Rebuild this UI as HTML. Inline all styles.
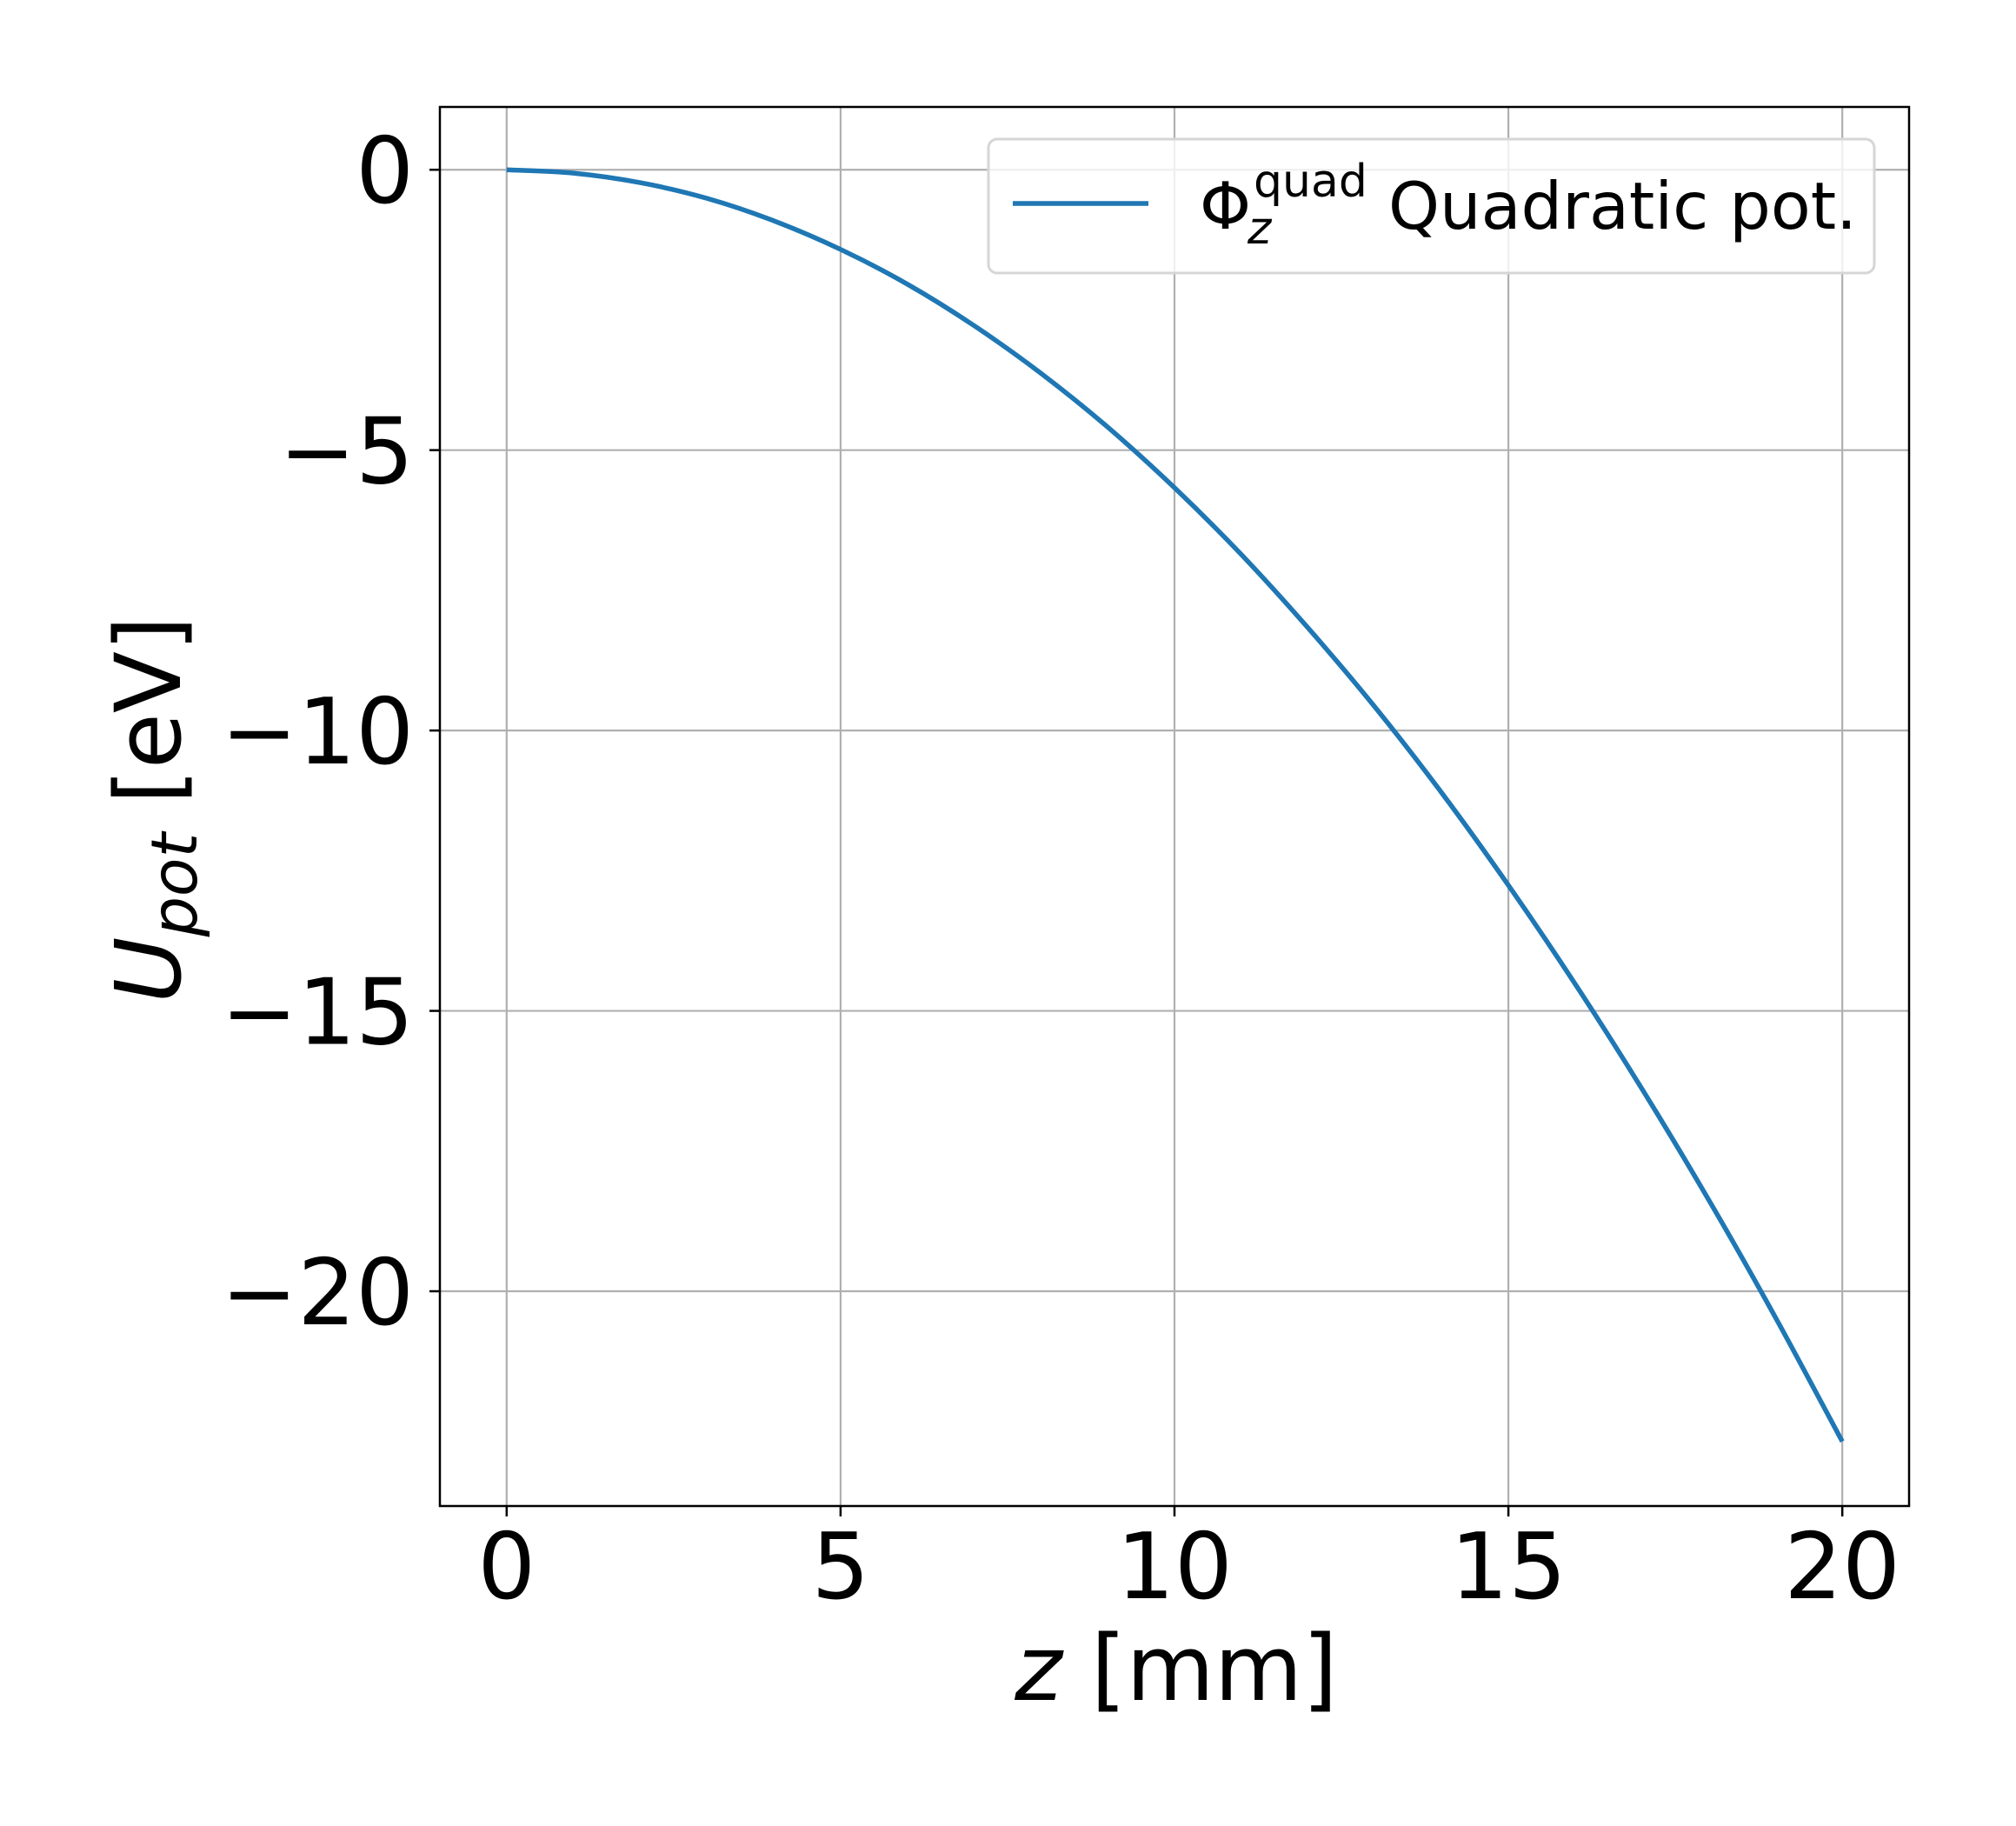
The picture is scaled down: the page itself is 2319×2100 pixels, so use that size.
<!DOCTYPE html>
<html><head><meta charset="utf-8"><style>
html,body{margin:0;padding:0;background:#fff;}
svg{display:block;font-family:"DejaVu Sans","Liberation Sans",sans-serif;}
</style></head><body>
<svg id="chart" width="2319" height="2100" viewBox="0 0 2319 2100" xmlns="http://www.w3.org/2000/svg">
<rect x="0" y="0" width="2319" height="2100" fill="#fff"/>
<g id="grid"></g>
<g id="series"></g>
<rect x="506" y="123" width="1690" height="1609" fill="none" stroke="#000" stroke-width="2.5"/>
<g id="ticks"></g>
<g>
<rect x="1137" y="160" width="1019" height="154" rx="10" fill="#fff" fill-opacity="0.8" stroke="#d6d6d6" stroke-width="3"/>
<line x1="1165" y1="234" x2="1321" y2="234" stroke="#1f77b4" stroke-width="5.5"/>
<text x="1380" y="263" font-size="75">Φ</text>
<text x="1442" y="226" font-size="52">quad</text>
<text x="1435" y="280" font-size="52" font-style="oblique">z</text>
<text x="1597" y="263" font-size="75">Quadratic pot.</text>
</g>
<text x="1353" y="1955" font-size="104" text-anchor="middle"><tspan font-style="oblique">z</tspan> [mm]</text>
<text transform="translate(207,931) rotate(-90)" font-size="104" text-anchor="middle"><tspan font-style="oblique">U</tspan><tspan font-style="oblique" font-size="73" dy="19">pot</tspan><tspan dy="-19"> [eV]</tspan></text>
</svg>
<script>
const zValues = [0,1,2,3,4,5,6,7,8,9,10,11,12,13,14,15,16,17,18,19,20];
const uValues = [0,-0.06,-0.23,-0.51,-0.91,-1.42,-2.04,-2.78,-3.63,-4.59,-5.67,-6.86,-8.17,-9.58,-11.11,-12.76,-14.52,-16.39,-18.37,-20.47,-22.68];
const xTicks = [0,5,10,15,20];
const yTicks = [0,-5,-10,-15,-20];
const xTickLabels = ["0","5","10","15","20"];
const yTickLabels = ["0","\u22125","\u221210","\u221215","\u221220"];

const NS = "http://www.w3.org/2000/svg";
const L = 506, R = 2196, T = 123, B = 1732;
const xMin = -1, xMax = 21, yMin = -23.83, yMax = 1.12;
function xs(v){ return L + (v - xMin) / (xMax - xMin) * (R - L); }
function ys(v){ return B - (v - yMin) / (yMax - yMin) * (B - T); }
function mk(tag, attrs, parent){ const e = document.createElementNS(NS, tag); for (const k in attrs) e.setAttribute(k, attrs[k]); parent.appendChild(e); return e; }

const grid = document.getElementById('grid');
const ticks = document.getElementById('ticks');
xTicks.forEach((v, i) => {
  const x = xs(v);
  const g = mk('line', {x1:x, y1:T, x2:x, y2:B, stroke:'#b0b0b0', 'stroke-width':2.2}, grid);
  
  
  const t = mk('line', {x1:x, y1:B, x2:x, y2:B+12, stroke:'#000', 'stroke-width':2.5}, ticks);
  
  
  const lb = mk('text', {x:x, y:1838, 'font-size':105, 'text-anchor':'middle'}, ticks);
  lb.textContent = xTickLabels[i];
  
  
});
yTicks.forEach((v, i) => {
  const y = ys(v);
  const g = mk('line', {x1:L, y1:y, x2:R, y2:y, stroke:'#b0b0b0', 'stroke-width':2.2}, grid);
  
  
  const t = mk('line', {x1:L-12, y1:y, x2:L, y2:y, stroke:'#000', 'stroke-width':2.5}, ticks);
  
  
  const lb = mk('text', {x:476, y:y+38, 'font-size':105, 'text-anchor':'end'}, ticks);
  lb.textContent = yTickLabels[i];
  
  
});
// smooth curve through the data points (Catmull-Rom)
const P = zValues.map((z, i) => [xs(z), ys(uValues[i])]);
let d = 'M' + P[0][0].toFixed(1) + ',' + P[0][1].toFixed(1);
for (let i = 0; i < P.length - 1; i++) {
  const p0 = P[Math.max(i - 1, 0)], p1 = P[i], p2 = P[i + 1], p3 = P[Math.min(i + 2, P.length - 1)];
  const c1 = [p1[0] + (p2[0] - p0[0]) / 6, p1[1] + (p2[1] - p0[1]) / 6];
  const c2 = [p2[0] - (p3[0] - p1[0]) / 6, p2[1] - (p3[1] - p1[1]) / 6];
  d += ' C' + c1[0].toFixed(1) + ',' + c1[1].toFixed(1) + ' ' + c2[0].toFixed(1) + ',' + c2[1].toFixed(1) + ' ' + p2[0].toFixed(1) + ',' + p2[1].toFixed(1);
}
const path = mk('path', {d:d, fill:'none', stroke:'#1f77b4', 'stroke-width':5.5, 'stroke-linejoin':'round'}, document.getElementById('series'));


</script>
</body></html>
